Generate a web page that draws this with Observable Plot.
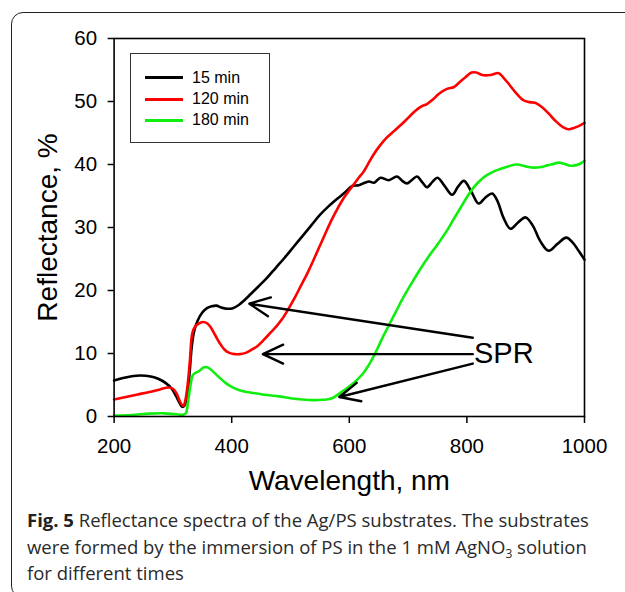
<!DOCTYPE html>
<html>
<head>
<meta charset="utf-8">
<script src="https://cdn.jsdelivr.net/npm/d3@7"></script>
<script src="https://cdn.jsdelivr.net/npm/@observablehq/plot@0.6"></script>
<style>
  html, body { margin: 0; padding: 0; background: #fff; }
  body { width: 625px; height: 592px; overflow: hidden; }
  #wrap { position: relative; width: 625px; height: 592px; overflow: hidden; }
  #box { position: absolute; left: 11px; top: 12px; width: 700px; height: 586px;
         border: 1.5px solid #222; border-radius: 12px; box-sizing: border-box; }
  #chart { position: absolute; left: 0; top: 0; }
  #legend { position: absolute; left: 130px; top: 53px; width: 140px; height: 90px;
            border: 1px solid #333; box-sizing: border-box; background: #fff;
            font-family: "Liberation Sans", Arial, sans-serif; font-size: 16px; }
  .row { position: absolute; left: 0; height: 20px; width: 140px; }
  .row .sw { position: absolute; left: 14px; top: 8.5px; width: 38px; height: 3px; }
  .row .lab { position: absolute; left: 61px; top: 0; line-height: 20px; white-space: nowrap; color: #000; }
  #caption { position: absolute; left: 27px; top: 507px; width: 600px;
             font-family: "Open Sans", sans-serif; font-size: 18.5px; line-height: 26.7px;
             color: #2a2a2a; white-space: nowrap; }
  #caption b { font-weight: 700; color: #222; }
  #caption sub { font-size: 12px; line-height: 0; vertical-align: -4px; }
</style>
</head>
<body>
<div id="wrap">
  <div id="box"></div>
  <div id="chart"></div>
  <div id="legend"></div>
  <div id="caption"></div>
</div>
<script>
// ---- Data ----
const seriesNames = ["15 min", "120 min", "180 min"];
const seriesColors = ["#000000", "#ff0000", "#10ee10"];

const xTicks = [200, 400, 600, 800, 1000];
const yTicks = [0, 10, 20, 30, 40, 50, 60];

const w15 = [200,215,230,245,260,275,288,298,305,311,316,320,324,328,332,336,342,350,358,366,374,382,392,402,412,422,432,445,460,475,490,505,520,535,550,565,580,592,605,616,626,634,642,653,667,681,690,698,706,715,724,732,741,750,762,775,785,795,808,820,832,843,852,862,874,887,900,912,925,939,954,969,980,990,1000];
const r15 = [5.7,6.1,6.4,6.5,6.4,6.0,5.3,4.4,3.3,2.2,1.5,1.8,3.0,6.5,11,13.5,15.2,16.5,17.2,17.5,17.6,17.3,17.1,17.2,17.7,18.5,19.4,20.6,22,23.6,25.2,26.9,28.6,30.3,32,33.4,34.6,35.5,36.6,36.7,37.1,37.3,37.1,37.9,37.5,38.1,37.4,37.0,37.5,38.1,37.2,36.4,37.2,37.9,36.6,35.2,36.5,37.4,35.6,33.8,34.8,35.4,34.2,31.6,29.8,30.8,31.6,30.3,27.8,26.3,27.4,28.4,27.6,26.3,24.9];

const w120 = [200,220,240,260,278,292,300,306,311,315,318,321,325,329,333,338,345,352,358,364,372,380,388,396,405,414,424,434,444,455,466,476,486,496,508,518,528,538,549,560,570,580,590,600,608,616,624,632,640,652,664,676,688,700,712,722,732,742,752,766,778,788,798,808,816,826,840,854,862,872,884,896,906,916,928,940,952,964,973,982,990,1000];
const r120 = [2.7,3.1,3.5,3.9,4.3,4.6,4.4,3.7,2.6,1.9,1.7,2.5,5,9,13.2,14.3,14.8,15,14.8,14.2,12.9,11.6,10.6,10.1,9.9,9.9,10.1,10.6,11.2,12.2,13.3,14.3,15.5,17,19,20.8,22.6,24.6,26.9,29.2,31.2,33,34.6,35.9,36.9,37.9,38.8,40.1,41.4,43,44.3,45.3,46.3,47.4,48.5,49.2,49.6,50.3,51.2,52,52.3,53.1,53.9,54.6,54.6,54.2,54.2,54.5,53.8,52.7,51.3,50.2,49.9,49.8,49.1,48,46.8,45.9,45.6,45.8,46.1,46.6];

const w180 = [200,230,260,285,305,318,322,326,330,334,340,346,352,358,364,372,380,390,400,412,425,440,460,480,500,520,540,555,568,578,590,602,614,624,632,640,648,657,668,678,690,705,720,735,750,766,778,789,800,812,823,834,846,857,870,885,900,914,926,938,948,956,966,976,986,994,1000];
const r180 = [0.15,0.25,0.45,0.5,0.35,0.3,0.5,2.5,5,6.6,7.0,7.3,7.8,7.8,7.5,6.8,6.1,5.3,4.7,4.2,3.9,3.7,3.4,3.2,2.9,2.7,2.6,2.65,2.8,3.3,4.1,4.9,5.9,6.9,8.0,9.3,10.8,12.6,14.6,16.4,18.6,21,23.3,25.4,27.3,29.5,31.4,33.1,34.8,36.4,37.5,38.3,38.9,39.3,39.7,40,39.7,39.5,39.6,39.9,40.1,40.3,40.1,39.8,39.9,40.2,40.6];

// SPR annotation: label and arrows (start -> tip), in data units
const sprLabel = ["SPR"];
const sprLabelX = [812];
const sprLabelY = [11.8];
const arrowX1 = [810, 810, 810];
const arrowY1 = [12.5, 9.9, 8.4];
const arrowX2 = [430, 453, 583];
const arrowY2 = [17.9, 9.9, 3.1];

// ---- Build tables ----
const spectra = [
  ...w15.map((w, i) => ({w, r: r15[i], s: seriesNames[0]})),
  ...w120.map((w, i) => ({w, r: r120[i], s: seriesNames[1]})),
  ...w180.map((w, i) => ({w, r: r180[i], s: seriesNames[2]}))
];
const arrows = arrowX1.map((x1, i) => ({x1, y1: arrowY1[i], x2: arrowX2[i], y2: arrowY2[i]}));
const labels = sprLabel.map((t, i) => ({t, x: sprLabelX[i], y: sprLabelY[i]}));

const FONT = "'Liberation Sans', Arial, sans-serif";

const chart = Plot.plot({
  width: 625,
  height: 500,
  marginLeft: 113.6,
  marginRight: 41,
  marginTop: 38,
  marginBottom: 84,
  style: {fontFamily: FONT, fontSize: "20px", color: "#000", background: "transparent", overflow: "visible"},
  x: {domain: [200, 1000]},
  y: {domain: [0, 60]},
  color: {domain: seriesNames, range: seriesColors},
  marks: [
    Plot.line(spectra, {x: "w", y: "r", z: "s", stroke: "s", strokeWidth: 2.6, curve: "catmull-rom"}),
    Plot.arrow(arrows, {x1: "x1", y1: "y1", x2: "x2", y2: "y2", stroke: "#000", strokeWidth: 2.4,
                        headAngle: 50, headLength: 14, insetStart: 0, insetEnd: 0}),
    Plot.text(labels, {x: "x", y: "y", text: "t", textAnchor: "start", lineAnchor: "top",
                       fontSize: 29, fill: "#000", fontFamily: FONT}),
    Plot.frame({stroke: "#000", strokeWidth: 1.6}),
    Plot.axisX({ticks: xTicks, tickSize: 7, tickPadding: 15, label: null, strokeWidth: 1.5,
                fontSize: 20.5, tickFormat: d => String(d)}),
    Plot.axisY({ticks: yTicks, tickSize: 6, tickPadding: 11, label: null, strokeWidth: 1.5,
                fontSize: 20.5, tickFormat: d => String(d)}),
    Plot.text(["Wavelength, nm"], {frameAnchor: "bottom", textAnchor: "middle", lineAnchor: "top", dy: 54,
                fontSize: 28, fill: "#000", fontFamily: FONT}),
    Plot.text(["Reflectance, %"], {frameAnchor: "left", textAnchor: "middle", rotate: -90, lineAnchor: "top", dx: -77,
                fontSize: 28, fill: "#000", fontFamily: FONT})
  ]
});
document.getElementById("chart").appendChild(chart);

// ---- Legend (HTML) ----
const legend = document.getElementById("legend");
const rowTops = [13.7, 35.3, 56.3];
seriesNames.forEach((name, i) => {
  const row = document.createElement("div");
  row.className = "row";
  row.style.top = rowTops[i] + "px";
  const sw = document.createElement("div");
  sw.className = "sw";
  sw.style.background = seriesColors[i];
  const lab = document.createElement("div");
  lab.className = "lab";
  lab.textContent = name;
  row.appendChild(sw);
  row.appendChild(lab);
  legend.appendChild(row);
});

// ---- Caption ----
document.getElementById("caption").innerHTML =
  "<b>Fig. 5</b> Reflectance spectra of the Ag/PS substrates. The substrates<br>" +
  "were formed by the immersion of PS in the 1 mM AgNO<sub>3</sub> solution<br>" +
  "for different times";
</script>
</body>
</html>
